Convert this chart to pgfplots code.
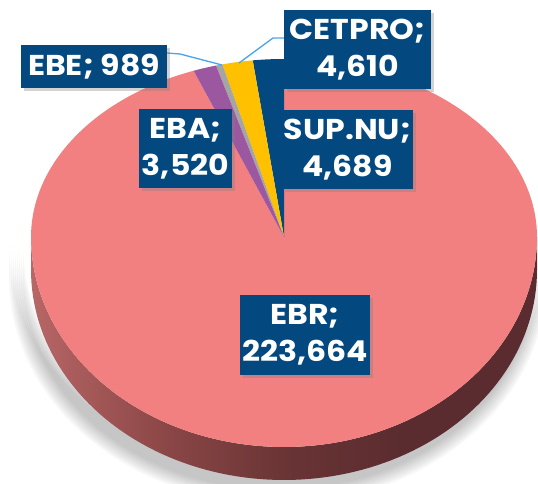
\documentclass[border=0pt]{standalone}
\usepackage{pgfplots}
\pgfplotsset{compat=1.18}
\usepackage{pgfplotstable}
\usepackage{fontspec}
\setmainfont{Poppins}[FakeStretch=1.1]
\usetikzlibrary{shadows}

\definecolor{pieRed}{HTML}{F28080}
\definecolor{labBlue}{HTML}{03497F}
\definecolor{cetYel}{HTML}{FFC000}
\definecolor{ebeGray}{HTML}{A5A5A5}
\definecolor{ebaPur}{HTML}{9B57A0}
\definecolor{sideL}{HTML}{B86666}
\definecolor{sideA}{HTML}{8C4747}
\definecolor{sideM}{HTML}{6A3435}
\definecolor{sideR}{HTML}{5A2C2F}
\definecolor{lineBlue}{HTML}{4AA6EC}

\pgfdeclarehorizontalshading{pieside}{100bp}{color(0bp)=(sideL); color(25bp)=(sideL); color(38bp)=(sideA); color(50bp)=(sideM); color(62bp)=(sideR); color(100bp)=(sideR)}

\pgfplotstableread{
name value
EBR 223664
SUPNU 4689
CETPRO 4610
EBE 989
EBA 3520
}\piedata

\pgfplotstablegetelem{0}{value}\of\piedata \let\vEBR\pgfplotsretval
\pgfplotstablegetelem{1}{value}\of\piedata \let\vSUP\pgfplotsretval
\pgfplotstablegetelem{2}{value}\of\piedata \let\vCET\pgfplotsretval
\pgfplotstablegetelem{3}{value}\of\piedata \let\vEBE\pgfplotsretval
\pgfplotstablegetelem{4}{value}\of\piedata \let\vEBA\pgfplotsretval

\pgfkeys{/pgf/fpu=true,/pgf/fpu/output format=fixed}
\pgfmathsetmacro\total{\vEBR+\vSUP+\vCET+\vEBE+\vEBA}
\pgfmathsetmacro\aA{90}
\pgfmathsetmacro\aB{\aA+360*\vSUP/\total}
\pgfmathsetmacro\aC{\aB+360*\vCET/\total}
\pgfmathsetmacro\aD{\aC+360*\vEBE/\total}
\pgfmathsetmacro\aE{\aD+360*\vEBA/\total}
\pgfmathsetmacro\aF{450}
\pgfkeys{/pgf/fpu=false}

% pie geometry (pixel units of the reference)
\def\cx{284}\def\cy{246}\def\rx{253}\def\ryt{178}\def\ryb{210}\def\dep{33}

\newcommand\pieslice[3]{%
\addplot[fill=#1, draw=none, variable=\t, samples at={-1,0,...,201}]
 ({\cx+ifthenelse(\t<0||\t>200,0,\rx)*cos(#2+(#3-#2)*\t/200)},
  {\cy+ifthenelse(\t<0||\t>200,0,ifthenelse(sin(#2+(#3-#2)*\t/200)>0,\ryt,\ryb))*sin(#2+(#3-#2)*\t/200)});
}

\tikzset{lab/.style={fill=labBlue, text=white, font=\bfseries\fontsize{21.5}{27.5}\selectfont,
  align=center, inner sep=0pt,
  drop shadow={shadow xshift=2pt, shadow yshift=-2pt, opacity=0.35}}}

\begin{document}
\begin{tikzpicture}
\useasboundingbox (0,0) rectangle (403.5pt,362.25pt);
\begin{axis}[
  at={(0,0)}, anchor=south west,
  x=0.75pt, y=0.75pt, xmin=0, xmax=538, ymin=0, ymax=483,
  hide axis, clip=true,
  declare function={ang(\t)=ifthenelse(\t<=100,180+1.8*\t,360-1.8*(\t-101));},
]
% soft shadow
\foreach \k in {1,...,8}{
\addplot[fill=black, fill opacity=0.03, draw=none, variable=\t, samples at={0,...,201}]
 ({\cx-6+(\rx+2*\k)*cos(ang(\t))},
  {ifthenelse(\t<=100,\cy-8,\cy-\dep-8)+(\ryb+2*\k)*sin(ang(\t))});
}
% side of the pie
\addplot[draw=none, shading=pieside, variable=\t, samples at={0,...,201}]
 ({\cx+\rx*cos(ang(\t))},
  {ifthenelse(\t<=100,\cy,\cy-\dep)+\ryb*sin(ang(\t))});
% top face wedges
\pieslice{pieRed}{\aE}{\aF}
\pieslice{labBlue}{\aA}{\aB}
\pieslice{cetYel}{\aB}{\aC}
\pieslice{ebeGray}{\aC}{\aD}
\pieslice{ebaPur}{\aD}{\aE}
% leader lines
\addplot[color=lineBlue, line width=1pt] coordinates {(167,430) (180,429) (222,418)};
\addplot[color=lineBlue, line width=1pt] coordinates {(284,445) (273,445) (239,420)};
% labels
\node[lab, minimum width=109.5pt, minimum height=32.25pt] at (axis cs:94,416.5) {EBE; 989};
\node[lab, minimum width=110.25pt, minimum height=59.25pt] at (axis cs:357.5,433.5) {CETPRO;\\4,610};
\node[lab, minimum width=69.75pt, minimum height=59.25pt] at (axis cs:185.5,334.5) {EBA;\\3,520};
\node[lab, minimum width=98.25pt, minimum height=59.25pt] at (axis cs:347.5,333.5) {SUP.NU;\\4,689};
\node[lab, minimum width=97.5pt, minimum height=60pt] at (axis cs:305,148) {EBR;\\223,664};
\end{axis}
\end{tikzpicture}
\end{document}
